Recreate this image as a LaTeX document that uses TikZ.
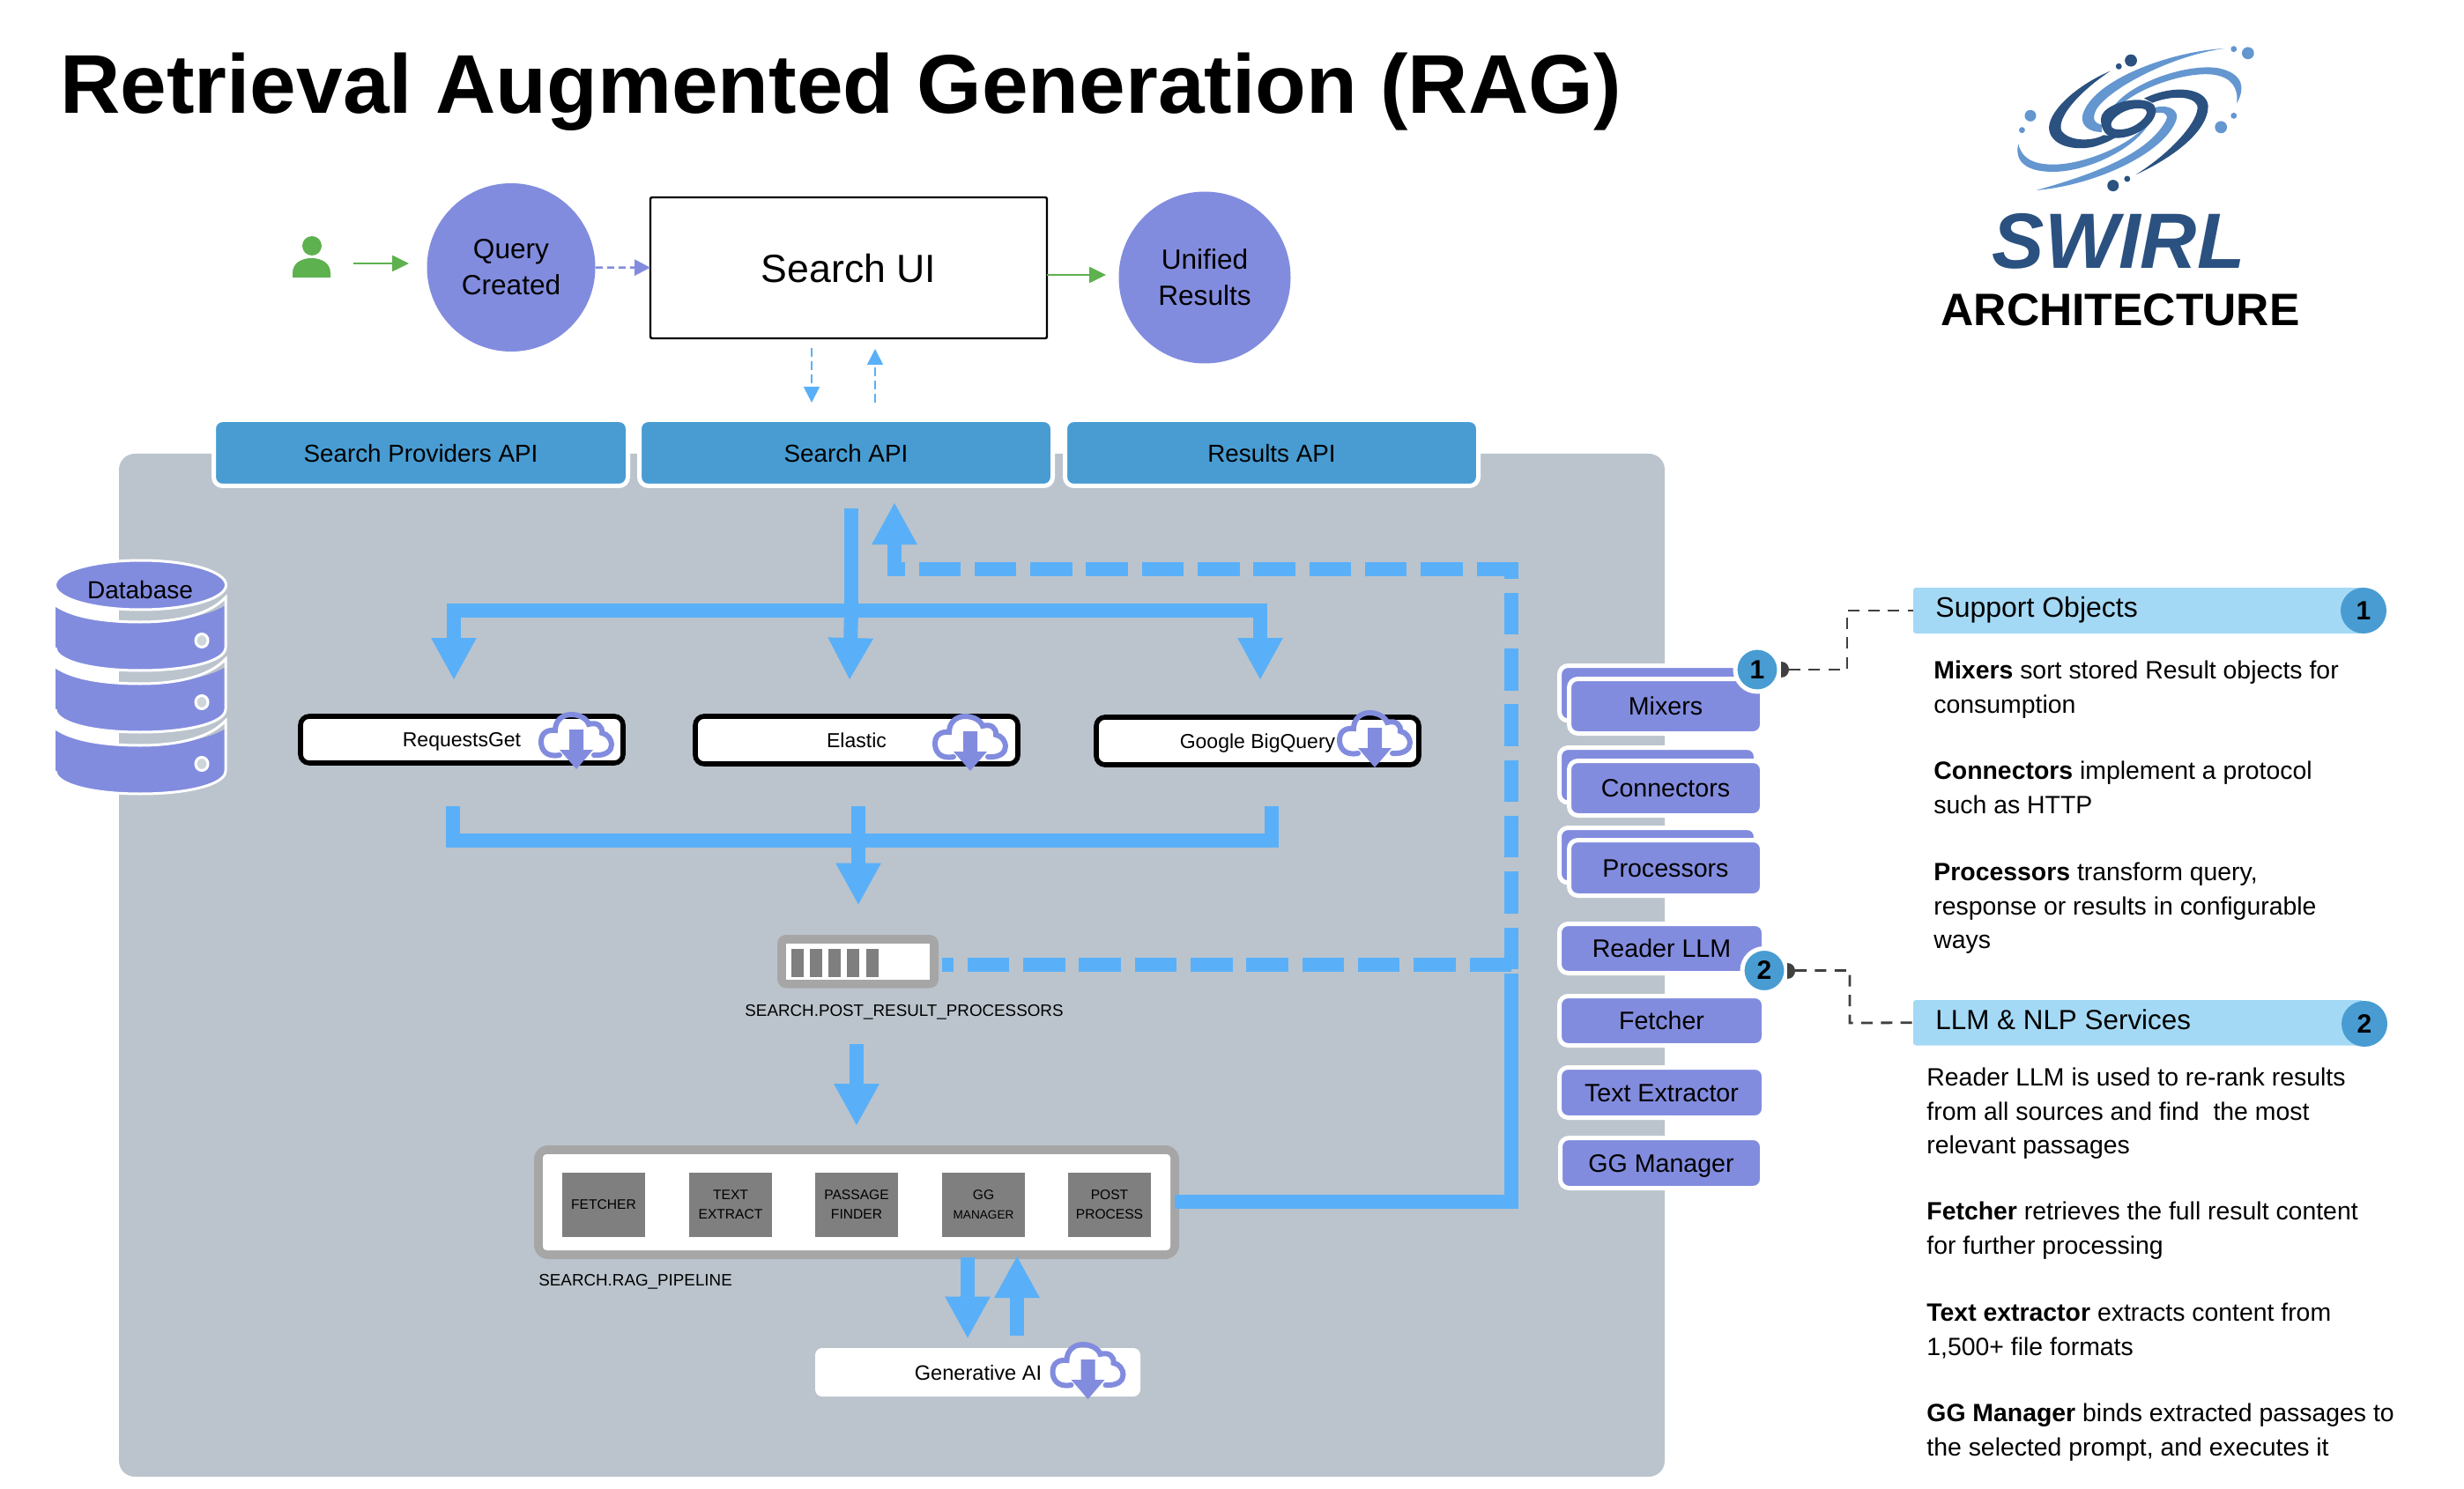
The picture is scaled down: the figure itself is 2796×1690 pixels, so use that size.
\documentclass[tikz,border=0pt]{standalone}
\usepackage{fontspec}
\setmainfont{Liberation Sans}
\usetikzlibrary{arrows.meta,shapes.geometric}
\definecolor{panelc}{HTML}{BBC4CC}
\definecolor{purp}{HTML}{828CDE}
\definecolor{apiblue}{HTML}{489CD2}
\definecolor{flow}{HTML}{5AB0F8}
\definecolor{frameg}{HTML}{A6A6A6}
\definecolor{squareg}{HTML}{7F7F7F}
\definecolor{grn}{HTML}{5DB14E}
\definecolor{hdrblue}{HTML}{A4D9F5}
\definecolor{logod}{HTML}{2A5180}
\definecolor{logol}{HTML}{6496D0}
\definecolor{tailg}{HTML}{404040}
\newcommand{\rbox}[7]{\pgfmathsetmacro\cxa{(#3+#5)/2}\pgfmathsetmacro\cya{(#4+#6)/2}\pgfmathsetmacro\wda{(#5-#3)/2}\pgfmathsetmacro\hta{(#6-#4)/2}\node[#1,minimum width=\wda pt,minimum height=\hta pt,inner sep=0pt,outer sep=0pt] (#2) at (\cxa,\cya) {#7};}
\newcommand{\cloudicon}[2]{\begin{scope}[shift={(#1,#2)}]
\draw[purp,line width=3pt,line cap=round] (-19,49) .. controls (-35,52) and (-40,42) .. (-40,34) .. controls (-40,24) and (-33,20) .. (-24,21) .. controls (-24,10) and (-16,3) .. (-6,3) .. controls (4,3) and (12,8) .. (14,14) .. controls (24,11) and (30,17) .. (29,24) .. controls (36,25) and (40,32) .. (40,37) .. controls (40,44) and (34,50) .. (20,49);
\fill[purp] (-8,20) -- (8,20) -- (8,43) -- (19,43) -- (0,65) -- (-19,43) -- (-8,43) -- cycle;
\end{scope}}
\newcommand{\dbbody}[1]{\begin{scope}[shift={(0,#1)}]
\fill[purp] (63,687) .. controls (85,700) and (125,706) .. (159,706) .. controls (195,706) and (235,700) .. (256,687) -- (256,735) .. controls (256,750) and (215,761) .. (159,761) .. controls (103,761) and (63,750) .. (63,735) -- cycle;
\draw[white,line width=1.5pt] (63,687) .. controls (85,702) and (125,706) .. (159,706) .. controls (195,706) and (235,700) .. (256,678) -- (256,735) .. controls (256,750) and (215,761) .. (159,761) .. controls (103,761) and (63,750) .. (63,735);
\filldraw[fill=panelc!70!white,draw=white,line width=1.5pt] (229,727) ellipse [x radius=7,y radius=7.5];
\end{scope}}
\tikzset{
 x=0.5pt,y=-0.5pt,
 fs/.style={font=\fontsize{#1}{#1}\selectfont,text height=0.72*#1pt,text depth=0pt},
 apibox/.style={rectangle,rounded corners=5pt,fill=apiblue,draw=white,line width=2.5pt,fs=13.9},
 svcbox/.style={rectangle,rounded corners=5pt,fill=purp,draw=white,line width=2.5pt,fs=14.3},
 srcbox/.style={rectangle,rounded corners=5pt,fill=white,draw=black,line width=2.8pt,fs=11.5},
 sqbox/.style={rectangle,fill=squareg,align=center,font=\fontsize{7.8}{11}\selectfont},
 round lbl/.style={circle,fill=purp,inner sep=0pt,align=center,font=\fontsize{15.8}{20.5}\selectfont},
 badge/.style={circle,fill=apiblue,draw=white,line width=2.5pt,inner sep=0pt,minimum size=25pt,font=\fontsize{15}{15}\bfseries\selectfont},
 hbadge/.style={circle,fill=apiblue,inner sep=0pt,minimum size=26pt,font=\fontsize{15}{15}\bfseries\selectfont},
 hdr/.style={rectangle,rounded corners=1.5pt,fill=hdrblue},
 bodytxt/.style={anchor=north west,inner sep=0pt,align=left,font=\fontsize{14.2}{19.25}\selectfont},
 small lbl/.style={inner sep=0pt,fs=9.4},
 flowline/.style={draw=flow,line width=8pt},
 flowarrow/.style={draw=flow,line width=8pt,-{Triangle[length=24pt,width=24pt]}},
 flowdash/.style={draw=flow,line width=8pt,dash pattern=on 23.75pt off 7.9pt},
 grnarrow/.style={draw=grn,line width=1.3pt,-{Triangle[length=9.5pt,width=9pt]}},
 purparrow/.style={draw=purp,line width=1.3pt,dash pattern=on 4pt off 2.5pt,-{Triangle[length=9pt,width=9pt]}},
 thinflow/.style={draw=flow,line width=0.8pt,dash pattern=on 5pt off 2.5pt,-{Triangle[length=9pt,width=9pt]}},
 leader/.style={draw=tailg,line width=1.4pt,dash pattern=on 6.5pt off 4.7pt},
}
\begin{document}
\begin{tikzpicture}
\useasboundingbox (0,0) rectangle (2796,1690);
\fill[white] (0,0) rectangle (2796,1690);
% Title
\node[anchor=base west,inner sep=0pt,font=\fontsize{47.3}{48}\bfseries\selectfont] (title) at (68,129) {Retrieval Augmented Generation (RAG)};
% Panel
\fill[panelc,rounded corners=9pt] (135,515) rectangle (1889,1676);
% Logo
\begin{scope}[shift={(2100,20)},xscale=0.3827,yscale=0.3333]
\fill[logol] (1108,105) .. controls (950,115) and (720,210) .. (688,330) .. controls (680,370) and (710,390) .. (745,390) -- (745,365) .. controls (720,360) and (715,340) .. (730,310) .. controls (770,240) and (950,130) .. (1108,105) -- cycle;
\fill[logol] (1145,292) .. controls (1170,240) and (1165,190) .. (1090,172) .. controls (1000,155) and (830,220) .. (778,305) -- (800,300) .. controls (850,240) and (1000,180) .. (1080,195) .. controls (1130,205) and (1150,240) .. (1145,292) -- cycle;
\fill[logol] (497,430) .. controls (485,490) and (520,525) .. (600,525) .. controls (700,525) and (840,450) .. (885,360) -- (860,385) .. controls (800,450) and (670,505) .. (590,500) .. controls (530,497) and (505,470) .. (497,430) -- cycle;
\fill[logol] (905,305) .. controls (950,295) and (975,320) .. (965,350) .. controls (930,460) and (730,570) .. (550,588) .. controls (700,540) and (880,470) .. (935,350) .. controls (945,325) and (925,320) .. (900,325) -- cycle;
\fill[logod] (845,535) .. controls (950,480) and (1060,390) .. (1060,300) .. controls (1055,240) and (960,225) .. (870,275) -- (895,290) .. controls (950,265) and (1015,265) .. (1028,300) .. controls (1035,350) and (950,460) .. (845,535) -- cycle;
\fill[logod] (770,182) .. controls (680,225) and (590,310) .. (588,375) .. controls (590,435) and (660,455) .. (720,440) .. controls (745,432) and (770,420) .. (790,405) -- (750,400) .. controls (720,420) and (650,425) .. (625,385) .. controls (610,340) and (680,250) .. (770,182) -- cycle;
\fill[logod,even odd rule] (742,345) .. controls (742,310) and (800,280) .. (850,280) .. controls (885,280) and (905,295) .. (905,315) .. controls (905,365) and (840,410) .. (790,410) .. controls (760,410) and (742,385) .. (742,345) -- cycle
 (772,365) .. controls (772,382) and (790,382) .. (810,380) .. controls (845,375) and (878,340) .. (878,322) .. controls (878,308) and (860,308) .. (840,310) .. controls (805,315) and (772,345) .. (772,365) -- cycle;
\foreach \px/\py/\pr in {1136/107/9,1178/121/18,533/334/17,508/383/9,1098/373/18,1136/334/9}
 \fill[logol] (\px,\py) ellipse [x radius=\pr,y radius=1.15*\pr];
\foreach \px/\py/\pr in {795/166/9,831/146/18,778/572/17,820/549/9}
 \fill[logod] (\px,\py) ellipse [x radius=\pr,y radius=1.15*\pr];
\end{scope}
\node[inner sep=0pt,text=logod,fs=44.5,font=\fontsize{44.5}{45}\bfseries\itshape\selectfont] (swirl) at (2404,272) {SWIRL};
\node[inner sep=0pt,fs=25.8,font=\fontsize{25.8}{26}\bfseries\selectfont] (arch) at (2406,351) {ARCHITECTURE};
% Top row
\fill[grn] (354,279) circle [radius=11];
\fill[grn] (332,315) -- (332,310) .. controls (332,298) and (343,293) .. (353.5,293) .. controls (364,293) and (375,298) .. (375,310) -- (375,315) -- cycle;
\node[round lbl,minimum size=95.5pt] (query) at (580,303.5) {Query\\Created};
\rbox{rectangle,rounded corners=1pt,draw=black,line width=1.2pt,fill=white,fs=22.3}{ui}{738}{224}{1188}{384}{Search UI}
\node[round lbl,minimum size=97.5pt] (unified) at (1367,315) {Unified\\Results};
\coordinate (u0) at (401,299); \coordinate (u1) at (464,299);
\draw[grnarrow] (u0) -- (u1);
\draw[purparrow] (query) -- (ui);
\coordinate (r0) at (1188,312); \coordinate (r1) at (1255,312);
\draw[grnarrow] (r0) -- (r1);
\coordinate (d0) at (921,395); \coordinate (d1) at (921,457);
\coordinate (e0) at (993,457); \coordinate (e1) at (993,396);
\draw[thinflow] (d0) -- (d1);
\draw[thinflow] (e0) -- (e1);
% API boxes
\rbox{apibox}{apiprov}{242.5}{476.5}{712.5}{551.5}{Search Providers API}
\rbox{apibox}{apisearch}{725.5}{476.5}{1194.5}{551.5}{Search API}
\rbox{apibox}{apiresults}{1208.5}{476.5}{1677.5}{551.5}{Results API}
% Database
\dbbody{140}
\dbbody{70}
\dbbody{0}
\node[ellipse,fill=purp,draw=white,line width=1.5pt,minimum width=97pt,minimum height=28pt,inner sep=0pt] (db) at (159.5,664) {};
\node[inner sep=0pt,fs=14] (dblbl) at (159,669) {Database};
% Fan-out
\coordinate (m0) at (966,577); \coordinate (m1) at (966,693);
\coordinate (busl) at (515,693); \coordinate (busr) at (1430,693);
\coordinate (a1) at (515,772); \coordinate (a2) at (964,772); \coordinate (a3) at (1430,772);
\draw[flowline] (m0) -- (m1);
\draw[flowarrow] (busl) -- (a1);
\draw[flowarrow] (m1) -- (a2);
\draw[flowarrow] (busr) -- (a3);
\draw[flowline,line cap=rect] (busl) -- (busr);
% Sources
\rbox{srcbox}{req}{341}{813}{707}{866}{RequestsGet}
\rbox{srcbox}{elastic}{789}{813}{1155}{867}{Elastic}
\rbox{srcbox}{bigq}{1244}{814}{1610}{868}{Google BigQuery}
\cloudicon{654}{808}
\cloudicon{1101}{810}
\cloudicon{1560}{806}
% Fan-in
\coordinate (b1) at (514,915); \coordinate (b2) at (974,915); \coordinate (b3) at (1443,915);
\coordinate (c1) at (514,954); \coordinate (c2) at (974,954); \coordinate (c3) at (1443,954);
\coordinate (c4) at (974,1027.5);
\draw[flowline] (b1) -- (c1);
\draw[flowline] (b3) -- (c3);
\draw[flowline,line cap=rect] (c1) -- (c3);
\draw[flowline] (b2) -- (c2);
\draw[flowarrow] (c2) -- (c4);
% Post-result processors
\rbox{rectangle,rounded corners=5pt,fill=frameg}{prp}{882}{1061}{1065}{1121.5}{}
\fill[white] (892,1071) rectangle (1055,1112);
\foreach \bx in {898,919,940,961,983} \fill[squareg] (\bx,1077) rectangle ++(14,32);
\node[small lbl] (prplbl) at (1026,1147) {SEARCH.POST\_RESULT\_PROCESSORS};
\coordinate (p0) at (972,1185); \coordinate (p1) at (972,1278);
\draw[flowarrow] (p0) -- (p1);
% RAG pipeline
\rbox{rectangle,rounded corners=8pt,fill=frameg}{rag}{606}{1300}{1338}{1429}{}
\rbox{rectangle,rounded corners=2pt,fill=white}{ragin}{616}{1310}{1328}{1419}{}
\rbox{sqbox}{sq1}{638}{1331}{732}{1403.5}{FETCHER}
\rbox{sqbox}{sq2}{782}{1331}{876}{1403.5}{TEXT\\EXTRACT}
\rbox{sqbox}{sq3}{925}{1331}{1019}{1403.5}{PASSAGE\\FINDER}
\rbox{sqbox}{sq4}{1069}{1331}{1163}{1403.5}{GG\\\fontsize{6.8}{11}\selectfont MANAGER}
\rbox{sqbox}{sq5}{1212}{1331}{1306}{1403.5}{POST\\PROCESS}
\node[small lbl,anchor=west] (raglbl) at (611,1453) {SEARCH.RAG\_PIPELINE};
\coordinate (g0) at (1098,1427); \coordinate (g1) at (1098,1519.5);
\coordinate (h0) at (1154,1516); \coordinate (h1) at (1154,1425);
\draw[flowarrow] (g0) -- (g1);
\draw[flowarrow] (h0) -- (h1);
\rbox{rectangle,rounded corners=4pt,fill=white}{genai}{925}{1530}{1294}{1585}{}
\node[inner sep=0pt,fs=11.8] (genlbl) at (1110,1558) {Generative AI};
\cloudicon{1234.5}{1523}
% Feedback lines
\coordinate (f0) at (1333,1364); \coordinate (f1) at (1715,1364); \coordinate (f2) at (1715,1105);
\draw[flowline,line join=miter] (f0) -- (f1) -- (f2);
\coordinate (l0) at (1715,1095); \coordinate (l1) at (1069,1095);
\draw[flowdash] (l0) -- (l1);
\coordinate (v0) at (1715,1100); \coordinate (v1) at (1715,638);
\draw[flowdash] (v0) -- (v1);
\coordinate (t0) at (1723,646); \coordinate (t1) at (1007,646);
\draw[flowdash] (t0) -- (t1);
\coordinate (t2) at (1015,654); \coordinate (t3) at (1015,570);
\draw[flowarrow] (t2) -- (t3);
% Service stacks
\rbox{svcbox}{mixb}{1769.5}{755.5}{1992.5}{818}{}
\rbox{svcbox}{mix}{1780.5}{770.5}{1999.5}{832.5}{Mixers}
\rbox{svcbox}{conb}{1769.5}{848.5}{1992.5}{911}{}
\rbox{svcbox}{con}{1780.5}{863.5}{1999.5}{925.5}{Connectors}
\rbox{svcbox}{prob}{1769.5}{939.5}{1992.5}{1002}{}
\rbox{svcbox}{pro}{1780.5}{953.5}{1999.5}{1016.5}{Processors}
\rbox{svcbox}{rdr}{1769.5}{1048.5}{2001.5}{1104.5}{Reader LLM}
\rbox{svcbox}{fet}{1769.5}{1130.5}{2001.5}{1186.5}{Fetcher}
\rbox{svcbox}{txt}{1769.5}{1211.5}{2001.5}{1268.5}{Text Extractor}
\rbox{svcbox}{ggm}{1770.5}{1291.5}{1999.5}{1348.5}{GG Manager}
% Headers
\rbox{hdr}{hdr1}{2171}{667}{2682}{719}{}
\rbox{hdr}{hdr2}{2171}{1135}{2682}{1186.5}{}
\node[anchor=west,inner sep=0pt,fs=16] (h1t) at (2196,689) {Support Objects};
\node[anchor=west,inner sep=0pt,fs=15.7] (h2t) at (2196,1157) {LLM \& NLP Services};
\node[hbadge] (hb1) at (2682,693) {1};
\node[hbadge] (hb2) at (2683,1162) {2};
% Badges and leaders
\node[badge] (b1n) at (1994,760) {1};
\node[badge] (b2n) at (2002,1101.5) {2};
\coordinate (k1) at (2096,693); \coordinate (k2) at (2099,1161);
\coordinate (s1) at (2030,760); \coordinate (s2) at (2037,1101.5);
\draw[leader] (s1) -| (k1) -- (hdr1.west);
\draw[leader] (s2) -| (k2) -- (hdr2.west);
\fill[tailg] (2021,751) .. controls (2033,751) and (2033,769) .. (2021,769) -- cycle;
\fill[tailg] (2028,1092.5) .. controls (2040,1092.5) and (2040,1110.5) .. (2028,1110.5) -- cycle;
% Body text
\node[bodytxt] (t1) at (2194,750) {\textbf{Mixers} sort stored Result objects for\\consumption};
\node[bodytxt] (t2) at (2194,864) {\textbf{Connectors} implement a protocol\\such as HTTP};
\node[bodytxt] (t3n) at (2194,979) {\textbf{Processors} transform query,\\response or results in configurable\\ways};
\node[bodytxt] (t4) at (2186,1212) {Reader LLM is used to re-rank results\\from all sources and find\ \ the most\\relevant passages};
\node[bodytxt] (t5) at (2186,1364) {\textbf{Fetcher} retrieves the full result content\\for further processing};
\node[bodytxt] (t6) at (2186,1479) {\textbf{Text extractor} extracts content from\\1,500+ file formats};
\node[bodytxt] (t7) at (2186,1593) {\textbf{GG Manager} binds extracted passages to\\the selected prompt, and executes it};
\end{tikzpicture}
\end{document}
